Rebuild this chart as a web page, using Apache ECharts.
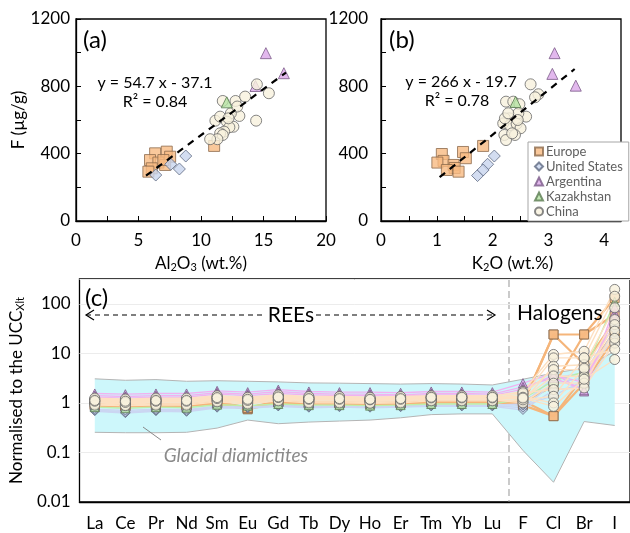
<!DOCTYPE html>
<html>
<head>
<meta charset="utf-8">
<script src="https://cdn.jsdelivr.net/npm/echarts@6/dist/echarts.min.js"></script>
<style>
html, body { margin: 0; background: #fff; }
#chart { width: 630px; height: 533px; }
</style>
</head>
<body>
<div id="chart"></div>
<script>
// panels (a) and (b): [oxide wt.%, F µg/g]
const alEurope = [[7.26, 412], [6.33, 402], [5.92, 362], [6.59, 347], [7.53, 382], [7.13, 333], [6.06, 313], [5.79, 293], [6.99, 362], [11.05, 446]]
const kEurope = [[1.47, 410], [1.09, 398], [1.52, 373], [1.12, 357], [1.01, 347], [1.30, 333], [1.32, 315], [1.18, 303], [1.39, 293], [1.83, 446]]
const alUS = [[6.38, 273], [7.58, 337], [8.27, 309], [8.78, 386]]
const kUS = [[1.73, 270], [1.91, 337], [1.83, 303], [2.03, 386]]
const alArgentina = [[15.19, 997], [16.63, 878], [14.36, 802]]
const kArgentina = [[3.11, 997], [3.07, 874], [3.49, 804]]
const alKazakhstan = [[12.06, 705]]
const kKazakhstan = [[2.41, 707]]
const alChina = [[11.74, 713], [12.76, 713], [13.53, 739], [14.47, 812], [15.43, 759], [14.41, 596], [13.07, 624], [12.39, 640],
  [11.15, 596], [11.53, 620], [12.07, 590], [12.59, 560], [12.27, 557], [11.85, 531], [11.53, 521], [11.74, 511],
  [11.31, 486], [10.73, 486], [12.2, 610], [12.9, 680]]
const kChina = [[2.68, 812], [2.82, 753], [2.76, 735], [2.24, 709], [2.37, 709], [2.48, 694], [2.60, 620], [2.46, 640],
  [2.30, 610], [2.19, 580], [2.31, 570], [2.43, 577], [2.50, 551], [2.21, 511], [2.40, 511], [2.24, 481],
  [2.35, 521], [2.22, 610], [2.45, 600], [2.28, 640]]
const trendAl = [[5.6, 269], [16.8, 882]]
const trendK = [[1.05, 260], [3.47, 903]]

// panel (c): values normalised to UCC
const elements = ['La', 'Ce', 'Pr', 'Nd', 'Sm', 'Eu', 'Gd', 'Tb', 'Dy', 'Ho', 'Er', 'Tm', 'Yb', 'Lu', 'F', 'Cl', 'Br', 'I']
const diaLow = [0.255, 0.25, 0.25, 0.255, 0.31, 0.45, 0.38, 0.41, 0.43, 0.45, 0.5, 0.58, 0.6, 0.6, 0.11, 0.025, 0.42, 0.35]
const diaHigh = [3.06, 2.86, 2.95, 2.73, 2.8, 2.73, 2.65, 2.53, 2.5, 2.45, 2.4, 2.45, 2.4, 2.3, 3.0, 4.0, 5.0, 11]
const cEurope = [
  [0.92, 0.88, 0.92, 0.9, 1.02, 0.78, 1.06, 1.0, 1.0, 0.98, 1.0, 1.05, 1.05, 1.05, 1.0, 24, 24, 130],
  [0.88, 0.84, 0.88, 0.86, 0.98, 0.74, 1.02, 0.96, 0.96, 0.94, 0.96, 1.02, 1.02, 1.02, 0.95, 24, 6, 45],
  [0.95, 0.9, 0.95, 0.92, 1.05, 0.8, 1.08, 1.02, 1.02, 1.0, 1.02, 1.08, 1.08, 1.08, 0.9, 0.54, 2.5, 20],
  [0.9, 0.86, 0.9, 0.88, 1.0, 0.76, 1.04, 0.98, 0.98, 0.96, 0.98, 1.04, 1.04, 1.04, 1.1, 0.54, 3.5, 28],
  [0.94, 0.9, 0.94, 0.92, 1.04, 0.79, 1.07, 1.01, 1.01, 0.99, 1.01, 1.06, 1.06, 1.06, 1.05, 2.2, 24, 60]
]
const cUS = [
  [0.68, 0.62, 0.68, 0.66, 0.8, 0.78, 0.85, 0.8, 0.82, 0.8, 0.82, 0.85, 0.85, 0.85, 0.72, 1.8, 2.2, 16],
  [0.72, 0.66, 0.72, 0.7, 0.84, 0.8, 0.88, 0.84, 0.85, 0.84, 0.85, 0.88, 0.88, 0.88, 0.8, 2.5, 3.2, 22],
  [0.7, 0.64, 0.7, 0.68, 0.82, 0.79, 0.86, 0.82, 0.84, 0.82, 0.84, 0.86, 0.86, 0.86, 0.88, 1.4, 2.8, 30],
  [0.75, 0.7, 0.75, 0.73, 0.86, 0.82, 0.9, 0.86, 0.88, 0.86, 0.88, 0.9, 0.9, 0.9, 0.95, 3.2, 4.0, 38]
]
const cArgentina = [
  [1.55, 1.5, 1.55, 1.55, 1.75, 1.65, 1.85, 1.7, 1.65, 1.65, 1.6, 1.7, 1.7, 1.65, 2.5, 4.0, 1.7, 65],
  [1.4, 1.35, 1.4, 1.4, 1.6, 1.5, 1.7, 1.55, 1.5, 1.5, 1.45, 1.55, 1.55, 1.5, 2.1, 3.2, 1.8, 85],
  [1.3, 1.25, 1.3, 1.3, 1.5, 1.4, 1.55, 1.45, 1.4, 1.4, 1.38, 1.45, 1.45, 1.4, 1.9, 3.6, 2.6, 55]
]
const cKazakhstan = [
  [0.82, 0.78, 0.82, 0.8, 0.92, 0.88, 0.95, 0.9, 0.9, 0.88, 0.9, 0.95, 0.95, 0.95, 1.2, 2.8, 4.2, 110]
]
const cChina = [
  [1.2, 1.15, 1.2, 1.2, 1.35, 1.25, 1.4, 1.3, 1.3, 1.25, 1.3, 1.35, 1.35, 1.35, 1.7, 9.5, 11, 195],
  [1.1, 1.05, 1.1, 1.1, 1.25, 1.15, 1.3, 1.2, 1.2, 1.15, 1.2, 1.28, 1.28, 1.28, 1.36, 8.1, 8.1, 142],
  [1.0, 0.95, 1.0, 1.0, 1.15, 1.05, 1.2, 1.1, 1.1, 1.08, 1.1, 1.2, 1.2, 1.2, 1.07, 5.5, 5.9, 83],
  [1.15, 1.1, 1.15, 1.15, 1.3, 1.2, 1.35, 1.25, 1.25, 1.2, 1.25, 1.3, 1.3, 1.3, 1.5, 4.7, 4.7, 48],
  [1.05, 1.0, 1.05, 1.05, 1.2, 1.1, 1.25, 1.15, 1.15, 1.12, 1.15, 1.25, 1.25, 1.25, 1.2, 3.5, 3.4, 38],
  [0.95, 0.9, 0.95, 0.95, 1.1, 1.0, 1.15, 1.05, 1.05, 1.02, 1.05, 1.15, 1.15, 1.15, 1.0, 2.5, 2.5, 28],
  [1.25, 1.2, 1.25, 1.25, 1.4, 1.3, 1.45, 1.35, 1.35, 1.3, 1.35, 1.4, 1.4, 1.4, 1.6, 1.86, 2.0, 16],
  [0.9, 0.88, 0.9, 0.9, 1.05, 0.95, 1.1, 1.0, 1.0, 0.98, 1.0, 1.1, 1.1, 1.1, 1.15, 1.36, 8.1, 12],
  [1.08, 1.02, 1.08, 1.08, 1.22, 1.12, 1.28, 1.18, 1.18, 1.15, 1.18, 1.26, 1.26, 1.26, 1.3, 1.0, 5.0, 20],
  [1.12, 1.08, 1.12, 1.12, 1.28, 1.18, 1.32, 1.22, 1.22, 1.18, 1.22, 1.3, 1.3, 1.3, 1.25, 0.85, 3.0, 7.5]
]

const FONT = 'Lato'

const groups = [
  { name: 'Europe', a: alEurope, b: kEurope, c: cEurope, symbol: 'rect', size: 11, fill: '#f7ba82', border: '#8c6a4c', line: '#f5b57a', lw: 2.2, z: 3 },
  { name: 'United States', a: alUS, b: kUS, c: cUS, symbol: 'diamond', size: 12, fill: '#c8d5ee', border: '#5f6a82', line: '#cbd6f2', lw: 1.4, z: 3 },
  { name: 'Argentina', a: alArgentina, b: kArgentina, c: cArgentina, symbol: 'triangle', size: 11, fill: '#dba6e8', border: '#7a5a88', line: '#f0b2f0', lw: 1.4, z: 3 },
  { name: 'Kazakhstan', a: alKazakhstan, b: kKazakhstan, c: cKazakhstan, symbol: 'triangle', size: 11, fill: '#b4e2a2', border: '#5a7a50', line: '#bdeeaa', lw: 1.4, z: 5 },
  { name: 'China', a: alChina, b: kChina, c: cChina, symbol: 'circle', size: 11, fill: '#f8f1dd', border: '#686868', line: '#fde0c2', lw: 1.4, z: 4 }
]

const series = []
groups.forEach(g => {
  const itemStyle = { color: g.fill, borderColor: g.border, borderWidth: 1 }
  series.push({ name: g.name, type: 'scatter', xAxisIndex: 0, yAxisIndex: 0, data: g.a, symbol: g.symbol, symbolSize: g.size, itemStyle, z: g.z })
  series.push({ name: g.name, type: 'scatter', xAxisIndex: 1, yAxisIndex: 1, data: g.b, symbol: g.symbol, symbolSize: g.size, itemStyle, z: g.z })
})
const trendStyle = { color: '#000', width: 2.2, type: [7, 6] }
series.push({ type: 'line', xAxisIndex: 0, yAxisIndex: 0, data: trendAl, showSymbol: false, lineStyle: trendStyle, z: 6 })
series.push({ type: 'line', xAxisIndex: 1, yAxisIndex: 1, data: trendK, showSymbol: false, lineStyle: trendStyle, z: 6 })

// glacial diamictite envelope: stacked band
series.push({ type: 'line', xAxisIndex: 2, yAxisIndex: 2, data: diaLow, stack: 'dia', showSymbol: false,
  lineStyle: { color: '#b4b4b4', width: 1 }, z: 1 })
series.push({ type: 'line', xAxisIndex: 2, yAxisIndex: 2, data: diaHigh.map((v, i) => v - diaLow[i]), stack: 'dia', showSymbol: false,
  lineStyle: { color: '#b4b4b4', width: 1 }, areaStyle: { color: '#cdf7fb', opacity: 1 }, z: 1 })

// sample profiles, Europe first so the pale lines sit on top in the REE part
;[0, 1, 3, 2, 4].forEach(k => {
  const g = groups[k]
  g.c.forEach(s => {
    series.push({ type: 'line', xAxisIndex: 2, yAxisIndex: 2, data: s, showSymbol: false,
      lineStyle: { color: g.line, width: g.lw }, z: 2 })
  })
})
;[0, 1, 3, 2, 4].forEach(k => {
  const g = groups[k]
  const pts = []
  g.c.forEach(s => s.forEach((v, i) => pts.push([elements[i], v])))
  series.push({ name: g.name + ' (c)', type: 'scatter', xAxisIndex: 2, yAxisIndex: 2, data: pts, symbol: g.symbol,
    symbolSize: g.symbol === 'circle' ? 10 : 9, itemStyle: { color: g.fill, borderColor: g.border, borderWidth: 1 }, z: 3 })
})

const axisBase = {
  axisLine: { lineStyle: { color: '#000', width: 1.3 } },
  axisTick: { inside: true, length: 5, lineStyle: { color: '#000' } },
  splitLine: { show: false },
  nameTextStyle: { fontFamily: FONT, fontSize: 17, color: '#000' }
}
const labelStyle = { fontFamily: FONT, fontSize: 17, color: '#000' }
const subRich = {
  n: { fontFamily: FONT, fontSize: 17, color: '#000' },
  s: { fontFamily: FONT, fontSize: 11, color: '#000', padding: [8, 0, 0, 0] }
}

const chart = echarts.init(document.getElementById('chart'))
chart.setOption({
  animation: false,
  grid: [
    { left: 76, top: 19, width: 250, height: 202, show: true, borderColor: '#000', borderWidth: 1.3 },
    { left: 381, top: 19, width: 240, height: 202, show: true, borderColor: '#000', borderWidth: 1.3 },
    { left: 76, top: 279, width: 554, height: 223, show: true, borderColor: '#000', borderWidth: 1.3 }
  ],
  legend: {
    data: groups.map(g => g.name),
    orient: 'vertical', left: 528, top: 142,
    itemWidth: 8, itemHeight: 8, itemGap: 2,
    padding: [3, 6, 3, 6],
    borderColor: '#a6a6a6', borderWidth: 1, backgroundColor: '#fff',
    textStyle: { fontFamily: FONT, fontSize: 13, color: '#606060', padding: [0, 0, 0, -2] }
  },
  xAxis: [
    { ...axisBase, type: 'value', gridIndex: 0, min: 0, max: 20, interval: 2.5,
      axisLabel: { ...labelStyle, margin: 11, formatter: v => (v % 5 === 0 ? String(v) : '') },
      name: '{n|Al}{s|2}{n|O}{s|3}{n| (wt.%)}', nameLocation: 'middle', nameGap: 33,
      nameTextStyle: { rich: subRich } },
    { ...axisBase, type: 'value', gridIndex: 1, min: 0, max: 4.3, interval: 0.5,
      axisLabel: { ...labelStyle, margin: 11, formatter: v => (Math.abs(v - Math.round(v)) < 1e-9 ? String(Math.round(v)) : '') },
      name: '{n|K}{s|2}{n|O (wt.%)}', nameLocation: 'middle', nameGap: 33,
      nameTextStyle: { padding: [0, 0, 0, 23], rich: subRich } },
    { ...axisBase, type: 'category', gridIndex: 2, data: elements,
      axisTick: { inside: true, length: 5, alignWithLabel: true, interval: 0, lineStyle: { color: '#000' } },
      axisLabel: { ...labelStyle, margin: 13, interval: 0 } }
  ],
  yAxis: [
    { ...axisBase, type: 'value', gridIndex: 0, min: 0, max: 1200, interval: 200,
      axisLabel: { ...labelStyle, margin: 6, formatter: v => (v % 400 === 0 ? String(v) : '') },
      name: 'F (µg/g)', nameLocation: 'middle', nameGap: 47 },
    { ...axisBase, type: 'value', gridIndex: 1, min: 0, max: 1200, interval: 200,
      axisLabel: { ...labelStyle, margin: 13, formatter: v => (v % 400 === 0 ? String(v) : '') } },
    { ...axisBase, type: 'log', gridIndex: 2, min: 0.01, max: 316.2, logBase: 10,
      splitLine: { show: true, lineStyle: { color: '#ececec', width: 1 } },
      axisLabel: { ...labelStyle, margin: 9, showMaxLabel: false,
        formatter: v => { const l = Math.log10(v); return Math.abs(l - Math.round(l)) < 1e-6 ? String(+v.toPrecision(3)) : '' } },
      name: '{n|Normalised to the UCC}{s|Xlt}', nameLocation: 'middle', nameGap: 47,
      nameTextStyle: { rich: subRich } }
  ],
  series,
  graphic: [
    { type: 'text', x: 83, y: 40, z: 100, style: { text: '(a)', fontFamily: FONT, fontSize: 24, fill: '#000', verticalAlign: 'middle' } },
    { type: 'text', x: 389, y: 40, z: 100, style: { text: '(b)', fontFamily: FONT, fontSize: 24, fill: '#000', verticalAlign: 'middle' } },
    { type: 'text', x: 85, y: 298, z: 100, style: { text: '(c)', fontFamily: FONT, fontSize: 24, fill: '#000', verticalAlign: 'middle' } },
    { type: 'text', x: 155, y: 83, z: 100, style: { text: 'y = 54.7 x - 37.1', fontFamily: FONT, fontSize: 16, fill: '#000', align: 'center', verticalAlign: 'middle' } },
    { type: 'text', x: 155, y: 102, z: 100, style: { text: 'R² = 0.84', fontFamily: FONT, fontSize: 16, fill: '#000', align: 'center', verticalAlign: 'middle' } },
    { type: 'text', x: 461, y: 82, z: 100, style: { text: 'y = 266 x - 19.7', fontFamily: FONT, fontSize: 16, fill: '#000', align: 'center', verticalAlign: 'middle' } },
    { type: 'text', x: 457, y: 101, z: 100, style: { text: 'R² = 0.78', fontFamily: FONT, fontSize: 16, fill: '#000', align: 'center', verticalAlign: 'middle' } },
    // REEs / Halogens annotation
    { type: 'line', z: 100, shape: { x1: 86, y1: 315, x2: 266, y2: 315 }, style: { stroke: '#000', lineWidth: 1.2, lineDash: [5, 4] } },
    { type: 'polyline', z: 100, shape: { points: [[94, 310], [86, 315], [94, 320]] }, style: { stroke: '#000', lineWidth: 1.2, fill: null } },
    { type: 'line', z: 100, shape: { x1: 316, y1: 315, x2: 495, y2: 315 }, style: { stroke: '#000', lineWidth: 1.2, lineDash: [5, 4] } },
    { type: 'polyline', z: 100, shape: { points: [[487, 310], [495, 315], [487, 320]] }, style: { stroke: '#000', lineWidth: 1.2, fill: null } },
    { type: 'text', x: 291, y: 315, z: 100, style: { text: 'REEs', fontFamily: FONT, fontSize: 21, fill: '#000', align: 'center', verticalAlign: 'middle' } },
    { type: 'text', x: 517, y: 313, z: 100, style: { text: 'Halogens', fontFamily: FONT, fontSize: 21, fill: '#000', verticalAlign: 'middle' } },
    { type: 'line', z: 0, shape: { x1: 509, y1: 280, x2: 509, y2: 502 }, style: { stroke: '#a8a8a8', lineWidth: 1.2, lineDash: [7, 4] } },
    // envelope label
    { type: 'line', z: 100, shape: { x1: 143, y1: 427, x2: 161, y2: 440 }, style: { stroke: '#888', lineWidth: 1 } },
    { type: 'text', x: 236, y: 456, z: 100, style: { text: 'Glacial diamictites', fontFamily: FONT, fontStyle: 'italic', fontSize: 19, fill: '#8a8a8a', align: 'center', verticalAlign: 'middle' } }
  ]
})
</script>
</body>
</html>
